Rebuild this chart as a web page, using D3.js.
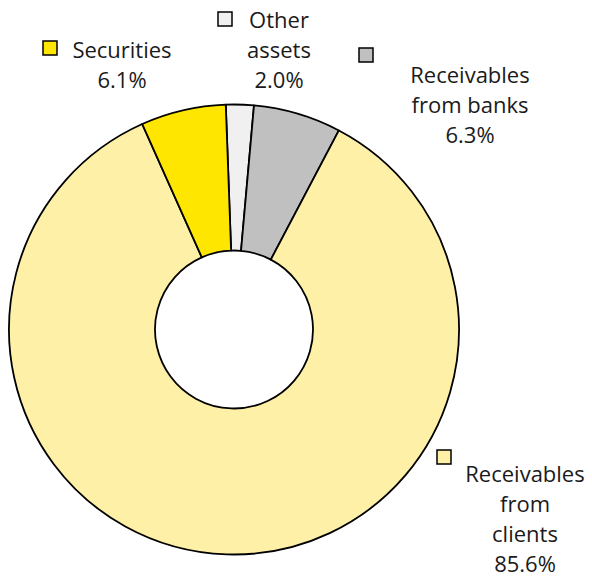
<!DOCTYPE html>
<html>
<head>
<meta charset="utf-8">
<script src="https://cdn.jsdelivr.net/npm/d3@7"></script>
<style>
  html, body { margin: 0; padding: 0; background: #fff; }
  svg { display: block; }
</style>
</head>
<body>
<svg id="chart" width="592" height="578"></svg>
<script>
// Asset breakdown (share of total, %)
const categories = ["Other assets", "Receivables from banks", "Receivables from clients", "Securities"];
const shares = [2.0, 6.3, 85.6, 6.1];
const labelLines = [
  ["Other", "assets"],
  ["Receivables", "from banks"],
  ["Receivables", "from", "clients"],
  ["Securities"]
];
const colors = ["#F0F0F0", "#C0C0C0", "#FFF0A8", "#FFE600"];

// Label block placement: centre x of text, baseline of first line, marker corner
const labelLayout = [
  { cx: 279, y: 28, mx: 218, my: 12 },
  { cx: 470, y: 83, mx: 359, my: 48 },
  { cx: 525, y: 482, mx: 437, my: 450 },
  { cx: 122, y: 58, mx: 43, my: 41 }
];

const svg = d3.select("#chart");
const cx = 234, cy = 329.5, rOuter = 225, rInner = 79;

const data = categories.map((c, i) => ({ name: c, value: shares[i], color: colors[i], lines: labelLines[i], pos: labelLayout[i] }));

const pie = d3.pie()
  .value(d => d.value)
  .sort(null)
  .startAngle(-2.1 * Math.PI / 180)
  .endAngle(2 * Math.PI - 2.1 * Math.PI / 180);

const arc = d3.arc().innerRadius(rInner).outerRadius(rOuter);

const g = svg.append("g").attr("transform", `translate(${cx},${cy})`);
g.selectAll("path")
  .data(pie(data))
  .join("path")
  .attr("d", arc)
  .attr("fill", d => d.data.color)
  .attr("stroke", "#000")
  .attr("stroke-width", 1.8)
  .attr("stroke-linejoin", "round");

// Labels with legend markers
const fmt = d3.format(".1f");
const lineH = 30;
const lab = svg.append("g").selectAll("g").data(data).join("g");

lab.append("rect")
  .attr("x", d => d.pos.mx)
  .attr("y", d => d.pos.my)
  .attr("width", 14)
  .attr("height", 14)
  .attr("fill", d => d.color)
  .attr("stroke", "#000")
  .attr("stroke-width", 1.5);

lab.append("text")
  .attr("font-family", "'Open Sans', sans-serif")
  .attr("font-size", 22)
  .attr("fill", "#1a1a1a")
  .attr("text-anchor", "middle")
  .selectAll("tspan")
  .data(d => d.lines.concat([fmt(d.value) + "%"]).map((t, i) => ({ t, i, p: d.pos })))
  .join("tspan")
  .attr("x", d => d.p.cx)
  .attr("y", d => d.p.y + d.i * lineH)
  .text(d => d.t);
</script>
</body>
</html>
